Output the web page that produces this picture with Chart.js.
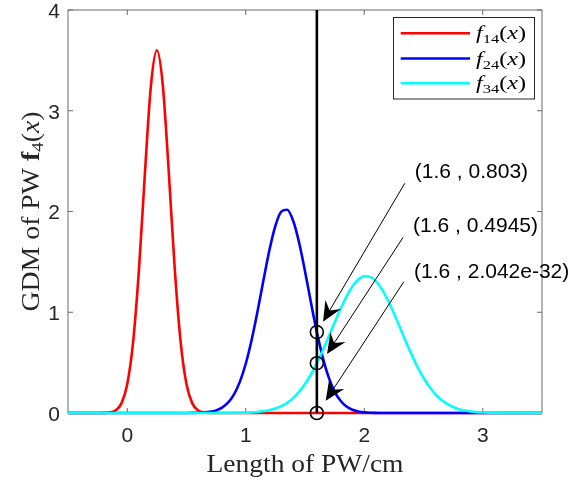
<!DOCTYPE html>
<html><head><meta charset="utf-8">
<script src="https://cdn.jsdelivr.net/npm/chart.js@4"></script>
<style>html,body{margin:0;padding:0;background:#fff;overflow:hidden}canvas{display:block}</style>
</head><body>
<canvas id="c" width="578" height="482"></canvas>
<script>
// ---- data ----
const xs = [-0.5,-0.45,-0.4,-0.35,-0.3,-0.25,-0.2,-0.15,-0.1,-0.05,0,0.05,0.1,0.15,0.2,0.25,0.3,0.35,0.4,0.45,0.5,0.55,0.6,0.65,0.7,0.75,0.8,0.85,0.9,0.95,1,1.05,1.1,1.15,1.2,1.25,1.3,1.35,1.4,1.45,1.5,1.55,1.6,1.65,1.7,1.75,1.8,1.85,1.9,1.95,2,2.05,2.1,2.15,2.2,2.25,2.3,2.35,2.4,2.45,2.5,2.55,2.6,2.65,2.7,2.75,2.8,2.85,2.9,2.95,3,3.05,3.1,3.15,3.2,3.25,3.3,3.35,3.4,3.45,3.5];
const f14 = [0,0,0,0,0,0,0.001,0.005,0.025,0.093,0.285,0.710,1.445,2.399,3.253,3.6,3.253,2.399,1.445,0.710,0.285,0.093,0.025,0.005,0.001,0,0,0,0,0,0,0,0,0,0,0,0,0,0,0,0,0,0,0,0,0,0,0,0,0,0,0,0,0,0,0,0,0,0,0,0,0,0,0,0,0,0,0,0,0,0,0,0,0,0,0,0,0,0,0,0];
const f24 = [0,0,0,0,0,0,0,0,0,0,0,0,0,0,0,0,0,0,0,0,0.0003,0.0008,0.002,0.005,0.012,0.026,0.053,0.102,0.183,0.309,0.489,0.727,1.012,1.322,1.618,1.857,1.999,2.017,1.908,1.693,1.408,1.098,0.803,0.550,0.354,0.213,0.121,0.064,0.032,0.015,0.0065,0.0026,0.001,0,0,0,0,0,0,0,0,0,0,0,0,0,0,0,0,0,0,0,0,0,0,0,0,0,0,0,0];
const f34 = [0,0,0,0,0,0,0,0,0,0,0,0,0,0,0,0,0,0,0,0,0,0,0,0,0,0,0,0,0.001,0.0018,0.0033,0.0059,0.010,0.017,0.028,0.044,0.068,0.102,0.148,0.209,0.287,0.382,0.4945,0.621,0.758,0.898,1.034,1.156,1.256,1.325,1.358,1.351,1.307,1.227,1.119,0.991,0.853,0.713,0.579,0.456,0.350,0.260,0.188,0.132,0.090,0.060,0.038,0.024,0.0145,0.0085,0.0049,0.0027,0.0015,0.0008,0.0004,0.0002,0,0,0,0,0];
const cutX = [1.6, 1.6];
const cutY = [0, 4];
const markX = [1.6, 1.6, 1.6];
const markY = [0.803, 0.4945, 2.042e-32];
const markLabels = ['(1.6 , 0.803)', '(1.6 , 0.4945)', '(1.6 , 2.042e-32)'];
const seriesSubs = ['14', '24', '34'];
const xTicks = [0, 1, 2, 3];
const yTicks = [0, 1, 2, 3, 4];
const xTickLabels = ['0', '1', '2', '3'];
const yTickLabels = ['0', '1', '2', '3', '4'];

// ---- styling / layout ----
const colors = ['#ff0000', '#0000ff', '#00ffff'];
const annot = [
  {tx: 2.427, ty: 2.395, x0: 2.342, y0: 2.28, x1: 1.652, y1: 0.906},
  {tx: 2.412, ty: 1.856, x0: 2.328, y0: 1.744, x1: 1.686, y1: 0.586},
  {tx: 2.420, ty: 1.402, x0: 2.334, y0: 1.303, x1: 1.675, y1: 0.122}
];
const SERIF = '"Liberation Serif", "Times New Roman", serif';
const SANS = '"Liberation Sans", Arial, sans-serif';
const R = n => `${n}px ${SERIF}`, I = n => `italic ${n}px ${SERIF}`, B = n => `bold ${n}px ${SERIF}`;
const TXT = '#262626';

function rich(ctx, parts, x, y, target, align) {
  let w = 0;
  parts.forEach(p => { ctx.font = p.f; p.w = ctx.measureText(p.t).width; w += p.w; });
  const s = target ? target / w : 1;
  ctx.save(); ctx.translate(x, y); ctx.scale(s, 1);
  let cx = align === 'center' ? -w / 2 : 0;
  ctx.textBaseline = 'alphabetic'; ctx.textAlign = 'left';
  parts.forEach(p => { ctx.font = p.f; ctx.fillText(p.t, cx, p.dy || 0); cx += p.w; });
  ctx.restore();
}

const pts = ys => xs.map((x, i) => ({x, y: ys[i]}));
const curve = (ys, k, order) => ({
  label: 'f' + seriesSubs[k], data: pts(ys), borderColor: colors[k], backgroundColor: colors[k],
  borderWidth: 2.6, pointRadius: 0, cubicInterpolationMode: 'monotone', order, clip: 6, fill: false
});

const decor = {
  id: 'decor',
  beforeDatasetsDraw(chart) {
    const {ctx, chartArea: a, scales: {x, y}} = chart;
    ctx.save();
    ctx.strokeStyle = '#6a6a6a'; ctx.lineWidth = 1;
    ctx.strokeRect(a.left, a.top, a.right - a.left, a.bottom - a.top);
    ctx.beginPath();
    xTicks.forEach(v => { const p = x.getPixelForValue(v);
      ctx.moveTo(p, a.bottom); ctx.lineTo(p, a.bottom - 5); ctx.moveTo(p, a.top); ctx.lineTo(p, a.top + 5); });
    yTicks.forEach(v => { const p = y.getPixelForValue(v);
      ctx.moveTo(a.left, p); ctx.lineTo(a.left + 5, p); ctx.moveTo(a.right, p); ctx.lineTo(a.right - 5, p); });
    ctx.stroke(); ctx.restore();
  },
  afterDatasetsDraw(chart) {
    const {ctx, scales: {x, y}} = chart;
    ctx.save();
    // arrows + labels
    annot.forEach((an, i) => {
      const p0 = {x: x.getPixelForValue(an.x0), y: y.getPixelForValue(an.y0)};
      const p1 = {x: x.getPixelForValue(an.x1), y: y.getPixelForValue(an.y1)};
      const dx = p1.x - p0.x, dy = p1.y - p0.y, len = Math.hypot(dx, dy);
      const ux = dx / len, uy = dy / len, nx = -uy, ny = ux;
      const L = 20, W = 9, N = 13;
      ctx.strokeStyle = '#000'; ctx.lineWidth = 1;
      ctx.beginPath(); ctx.moveTo(p0.x, p0.y); ctx.lineTo(p1.x - ux * N, p1.y - uy * N); ctx.stroke();
      ctx.fillStyle = '#000';
      ctx.beginPath();
      ctx.moveTo(p1.x, p1.y);
      ctx.lineTo(p1.x - ux * L + nx * W, p1.y - uy * L + ny * W);
      ctx.lineTo(p1.x - ux * N, p1.y - uy * N);
      ctx.lineTo(p1.x - ux * L - nx * W, p1.y - uy * L - ny * W);
      ctx.closePath(); ctx.fill();
      ctx.fillStyle = '#000';
      ctx.font = '21px ' + SANS;
      ctx.textAlign = 'left'; ctx.textBaseline = 'middle';
      ctx.fillText(markLabels[i], x.getPixelForValue(an.tx), y.getPixelForValue(an.ty));
    });
    // legend
    const lx = 393.5, ly = 17.5, lw = 141, lh = 81.5;
    ctx.fillStyle = '#fff'; ctx.fillRect(lx, ly, lw, lh);
    ctx.strokeStyle = '#262626'; ctx.lineWidth = 1; ctx.strokeRect(lx, ly, lw, lh);
    const rows = [33.3, 58.5, 83.3];
    seriesSubs.forEach((s, k) => {
      ctx.strokeStyle = colors[k]; ctx.lineWidth = 2.6;
      ctx.beginPath(); ctx.moveTo(400.7, rows[k]); ctx.lineTo(470, rows[k]); ctx.stroke();
      ctx.fillStyle = '#000';
      rich(ctx, [{t: 'f', f: I(19)}, {t: s, f: R(13), dy: 4}, {t: '(', f: R(19)}, {t: 'x', f: I(19)}, {t: ')', f: R(19)}],
        476, rows[k] + 6, 50, 'left');
    });
    ctx.restore();
  },
  afterDraw(chart) {
    const {ctx, chartArea: a} = chart;
    ctx.save();
    ctx.fillStyle = TXT;
    rich(ctx, [{t: 'Length of PW/cm', f: R(25)}], (a.left + a.right) / 2, 471.5, 197, 'center');
    ctx.translate(38.5, (a.top + a.bottom) / 2);
    ctx.rotate(-Math.PI / 2);
    rich(ctx, [{t: 'GDM of PW ', f: R(25)}, {t: 'f', f: B(25)}, {t: '4', f: R(17), dy: 4},
      {t: '(', f: R(25)}, {t: 'x', f: I(25)}, {t: ')', f: R(25)}], 0, 0, 200, 'center');
    ctx.restore();
  }
};

new Chart(document.getElementById('c'), {
  type: 'line',
  data: {
    datasets: [
      curve(f14, 0, 5), curve(f24, 1, 4), curve(f34, 2, 3),
      {label: 'cut', data: cutX.map((x, i) => ({x, y: cutY[i]})), borderColor: '#000', borderWidth: 2.6,
       pointRadius: 0, order: 2, clip: 6},
      {label: 'marks', data: markX.map((x, i) => ({x, y: markY[i]})), showLine: false, pointRadius: 6.5,
       pointBorderWidth: 1.6, pointBorderColor: '#000', pointBackgroundColor: 'rgba(0,0,0,0)', order: 1, clip: 10}
    ]
  },
  options: {
    responsive: false, animation: false, events: [],
    layout: {padding: {top: 10, right: 36, left: 0, bottom: 0}},
    plugins: {legend: {display: false}, tooltip: {enabled: false}},
    scales: {
      x: {
        type: 'linear', min: -0.5, max: 3.5,
        grid: {display: false, drawTicks: false}, border: {display: false},
        afterBuildTicks: s => { s.ticks = xTicks.map(v => ({value: v})); },
        afterFit: s => { s.height = 69; s.paddingLeft = 0; s.paddingRight = 0; },
        ticks: {padding: 11, color: TXT, font: {family: SANS, size: 21},
          callback: (v) => xTickLabels[xTicks.indexOf(v)], maxRotation: 0, autoSkip: false}
      },
      y: {
        type: 'linear', min: 0, max: 4,
        grid: {display: false, drawTicks: false}, border: {display: false},
        afterBuildTicks: s => { s.ticks = yTicks.map(v => ({value: v})); },
        afterFit: s => { s.width = 68; s.paddingTop = 0; s.paddingBottom = 0; },
        ticks: {padding: 8, labelOffset: 2, color: TXT, font: {family: SANS, size: 21},
          callback: (v) => yTickLabels[yTicks.indexOf(v)], autoSkip: false}
      }
    }
  },
  plugins: [decor]
});
</script>
</body></html>
